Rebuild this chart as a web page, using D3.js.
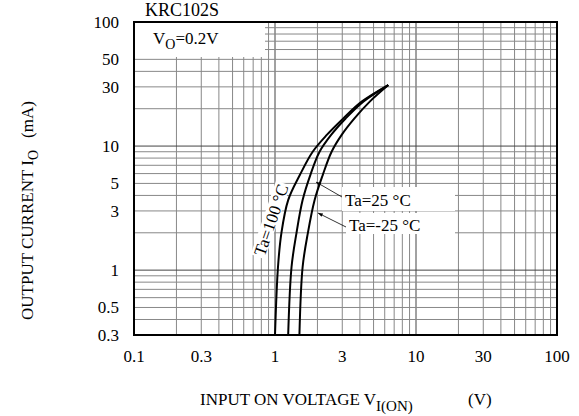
<!DOCTYPE html>
<html>
<head>
<meta charset="utf-8">
<script src="https://cdn.jsdelivr.net/npm/d3@7"></script>
<style>
  body { margin: 0; background: #fff; }
  svg { display: block; }
  text { font-family: "Liberation Serif", "Times New Roman", serif; fill: #000; }
</style>
</head>
<body>
<div id="chart"></div>
<script>
// data (V dalam volt, I dalam mA)
var currentI = [0.3, 1.06, 1.99, 3.67, 5.84, 9.0, 12.3, 16.7, 22.8, 31];
var voltTa100 = [1.00, 1.05, 1.11, 1.24, 1.50, 1.85, 2.33, 3.05, 4.12, 6.36];
var voltTa25 = [1.24, 1.31, 1.42, 1.57, 1.78, 2.07, 2.50, 3.17, 4.23, 6.36];
var voltTaM25 = [1.49, 1.57, 1.71, 1.91, 2.18, 2.52, 2.97, 3.66, 4.70, 6.36];

var xTicks = [0.1, 0.3, 1, 3, 10, 30, 100];
var yTicks = [0.3, 0.5, 1, 3, 5, 10, 30, 50, 100];

var width = 579, height = 416;
var margin = { top: 22, right: 22, bottom: 81, left: 134 };

var svg = d3.select("#chart").append("svg")
    .attr("width", width)
    .attr("height", height);

var x = d3.scaleLog().domain([0.1, 100]).range([margin.left, width - margin.right]);
var y = d3.scaleLog().domain([0.3, 100]).range([height - margin.bottom, margin.top]);

// grid
var xGrid = x.ticks(30).filter(function (d) { return d > 0.1 && d < 100; });
var yGrid = y.ticks(30).filter(function (d) { return d > 0.3 && d < 100; });

svg.append("g").selectAll("line")
    .data(xGrid)
    .enter().append("line")
    .attr("x1", function (d) { return x(d); })
    .attr("x2", function (d) { return x(d); })
    .attr("y1", y(0.3))
    .attr("y2", y(100))
    .attr("stroke", function (d) { return (d === 1 || d === 10) ? "#444" : "#888"; })
    .attr("stroke-width", 1);

svg.append("g").selectAll("line")
    .data(yGrid)
    .enter().append("line")
    .attr("y1", function (d) { return y(d); })
    .attr("y2", function (d) { return y(d); })
    .attr("x1", x(0.1))
    .attr("x2", x(100))
    .attr("stroke", function (d) { return (d === 1 || d === 10) ? "#444" : "#888"; })
    .attr("stroke-width", 1);

// kotak V_O
svg.append("rect")
    .attr("x", x(0.1))
    .attr("y", y(100))
    .attr("width", 131)
    .attr("height", 35)
    .attr("fill", "#fff");

var vo = svg.append("text")
    .attr("x", 153)
    .attr("y", 44)
    .style("font-size", "17px");
vo.append("tspan").text("V");
vo.append("tspan").attr("dy", 5).style("font-size", "14px").text("O");
vo.append("tspan").attr("dy", -5).text("=0.2V");

// label Ta=100 (di bawah kurva)
var g100 = svg.append("g").attr("transform", "translate(271,220) rotate(-71)");
g100.append("rect").attr("x", -39).attr("y", -8).attr("width", 78).attr("height", 15).attr("fill", "#fff");
g100.append("text")
    .attr("text-anchor", "middle")
    .attr("dy", "0.35em")
    .style("font-size", "17px")
    .text("Ta=100 °C");

// kotak putih label lain
svg.append("rect").attr("x", 342).attr("y", 187).attr("width", 113).attr("height", 24).attr("fill", "#fff");
svg.append("rect").attr("x", 346).attr("y", 213).attr("width", 109).attr("height", 21).attr("fill", "#fff");

// kurva
var line = d3.line()
    .x(function (d) { return x(d[0]); })
    .y(function (d) { return y(d[1]); })
    .curve(d3.curveCatmullRom.alpha(0.5));

[voltTa100, voltTa25, voltTaM25].forEach(function (v) {
    var pts = v.map(function (vv, i) { return [vv, currentI[i]]; });
    svg.append("path")
        .attr("d", line(pts))
        .attr("fill", "none")
        .attr("stroke", "#000")
        .attr("stroke-width", 2);
});

// panah label
svg.append("defs").append("marker")
    .attr("id", "arr")
    .attr("viewBox", "0 0 10 10")
    .attr("refX", 10).attr("refY", 5)
    .attr("markerWidth", 6).attr("markerHeight", 6)
    .attr("orient", "auto")
    .append("path")
    .attr("d", "M0,1 L10,5 L0,9 Z")
    .attr("fill", "#000");

svg.append("line")
    .attr("x1", 342).attr("y1", 197).attr("x2", 316).attr("y2", 182)
    .attr("stroke", "#000").attr("stroke-width", 0.8)
    .attr("marker-end", "url(#arr)");
svg.append("line")
    .attr("x1", 346).attr("y1", 227).attr("x2", 318).attr("y2", 213)
    .attr("stroke", "#000").attr("stroke-width", 0.8)
    .attr("marker-end", "url(#arr)");

svg.append("text").attr("x", 345).attr("y", 206).style("font-size", "17px").text("Ta=25 °C");
svg.append("text").attr("x", 349).attr("y", 231).style("font-size", "17px").text("Ta=-25 °C");

// bingkai
svg.append("rect")
    .attr("x", x(0.1))
    .attr("y", y(100))
    .attr("width", x(100) - x(0.1))
    .attr("height", y(0.3) - y(100))
    .attr("fill", "none")
    .attr("stroke", "#000")
    .attr("stroke-width", 2);

// label tick
svg.append("g").selectAll("text")
    .data(xTicks)
    .enter().append("text")
    .attr("x", function (d) { return x(d); })
    .attr("y", 362)
    .attr("text-anchor", "middle")
    .style("font-size", "17px")
    .text(function (d) { return d; });

svg.append("g").selectAll("text")
    .data(yTicks)
    .enter().append("text")
    .attr("x", 119)
    .attr("y", function (d) { return y(d); })
    .attr("dy", "0.35em")
    .attr("text-anchor", "end")
    .style("font-size", "17px")
    .text(function (d) { return d; });

// judul
svg.append("text")
    .attr("x", 145)
    .attr("y", 16)
    .style("font-size", "18px")
    .text("KRC102S");

var xl = svg.append("text")
    .attr("x", 200)
    .attr("y", 405)
    .style("font-size", "17px");
xl.append("tspan").text("INPUT ON VOLTAGE V");
xl.append("tspan").attr("dy", 6).style("font-size", "15px").text("I(ON)");
xl.append("tspan").attr("dy", -6).attr("x", 468).text("(V)");

var yl = svg.append("text")
    .attr("transform", "translate(33,320) rotate(-90)")
    .style("font-size", "17px");
yl.append("tspan").text("OUTPUT CURRENT I");
yl.append("tspan").attr("dy", 5).style("font-size", "14px").text("O");
yl.append("tspan").attr("dy", -5).attr("dx", 12).text("(mA)");
</script>
</body>
</html>
